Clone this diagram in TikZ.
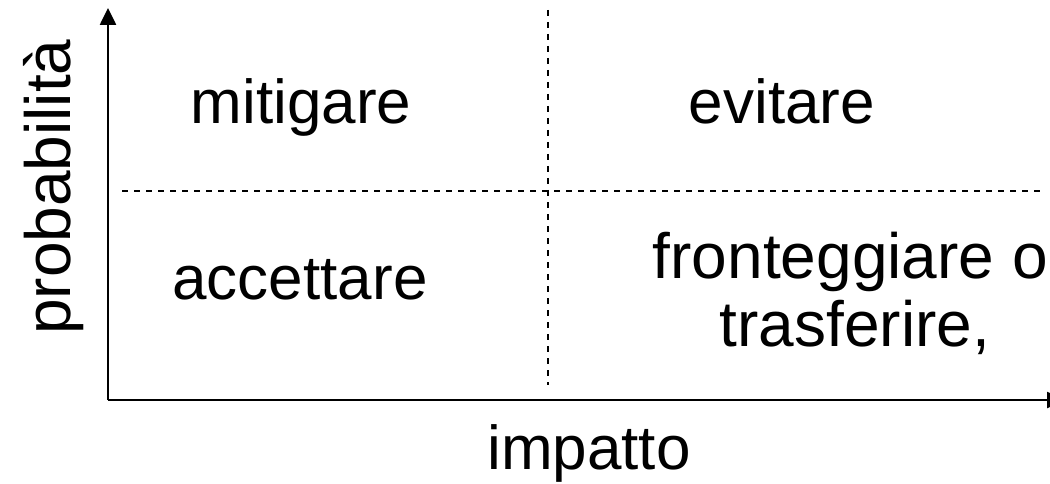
\documentclass[tikz,border=0pt]{standalone}
\usepackage{fontspec}
\setmainfont{Liberation Sans}
\usetikzlibrary{arrows.meta}
\begin{document}
\begin{tikzpicture}[x=1pt,y=-1pt,
  axis/.style={line width=2.6pt,-{Triangle[width=16pt,length=17pt]}},
  grid/.style={line width=1.3pt,dash pattern=on 6pt off 6pt},
  lbl/.style={font=\fontsize{62}{72}\selectfont,anchor=base,inner sep=0pt},
  big/.style={font=\fontsize{64}{72}\selectfont}]
\useasboundingbox (0,0) rectangle (1050,484);
\coordinate (o) at (108,400);
\coordinate (ytop) at (108,8);
\coordinate (xend) at (1064,400);
\coordinate (vt) at (548,10);
\coordinate (vb) at (548,385);
\coordinate (hl) at (122,191);
\coordinate (hr) at (1040,191);
\draw[grid] (vt) -- (vb);
\draw[grid] (hl) -- (hr);
\draw[axis] (o) -- (ytop);
\draw[axis] (o) -- (xend);
\node[lbl] (mit) at (301,124) {mitigare};
\node[lbl] (evi) at (782,124) {evitare};
\node[lbl] (acc) at (300,299) {accettare};
\node[lbl,big,anchor=base east] (fro) at (1048,278) {fronteggiare o};
\node[lbl,big] (tra) at (855,346) {trasferire,};
\node[lbl] (imp) at (589,469) {impatto};
\node[lbl,big,rotate=90] (prob) at (70,187) {probabilità};
\end{tikzpicture}
\end{document}
